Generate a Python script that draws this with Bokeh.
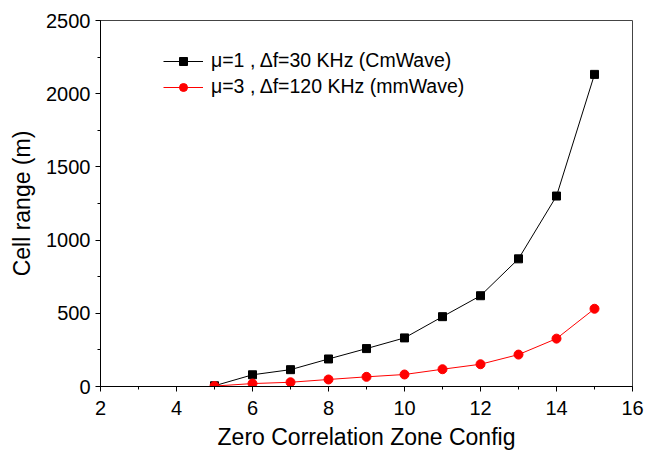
from bokeh.plotting import figure
from bokeh.models import Range1d, SingleIntervalTicker, Legend, LegendItem
from bokeh.embed import file_html
from bokeh.resources import INLINE

# Data
zcz_config = [5, 6, 7, 8, 9, 10, 11, 12, 13, 14, 15]
cell_range_mu1 = [5, 80, 115, 188, 259, 332, 477, 620, 872, 1301, 2132]
cell_range_mu3 = [3, 20, 29, 48, 66, 82, 118, 152, 218, 327, 531]
label_mu1 = "\u03bc=1 , \u0394f=30 KHz (CmWave)"
label_mu3 = "\u03bc=3 , \u0394f=120 KHz (mmWave)"

FONT = "Liberation Sans"

p = figure(width=655, height=452, output_backend="svg", toolbar_location=None,
           x_range=Range1d(2, 16), y_range=Range1d(0, 2500),
           min_border_left=100, min_border_right=23, min_border_top=20, min_border_bottom=65)
p.grid.visible = False
p.outline_line_color = "#444444"
p.outline_line_width = 1
p.background_fill_color = "white"
p.border_fill_color = "white"

p.xaxis.ticker = SingleIntervalTicker(interval=2, num_minor_ticks=2)
p.yaxis.ticker = SingleIntervalTicker(interval=500, num_minor_ticks=2)

for ax in (p.xaxis, p.yaxis):
    ax.axis_line_color = "black"
    ax.major_tick_line_color = "black"
    ax.minor_tick_line_color = "black"
    ax.major_tick_in = 0
    ax.major_tick_out = 5
    ax.minor_tick_in = 0
    ax.minor_tick_out = 3
    ax.major_label_text_font = FONT
    ax.major_label_text_font_size = "20px"
    ax.major_label_text_color = "black"
    ax.axis_label_text_font = FONT
    ax.axis_label_text_font_size = "23px"
    ax.axis_label_text_font_style = "normal"
    ax.axis_label_text_color = "black"

p.xaxis.axis_label = "Zero Correlation Zone Config"
p.yaxis.axis_label = "Cell range (m)"
p.xaxis.major_label_standoff = 9
p.xaxis.axis_label_standoff = 6
p.yaxis.major_label_standoff = 5
p.yaxis.axis_label_standoff = 8

l1 = p.line(zcz_config, cell_range_mu1, line_color="black", line_width=1)
m1 = p.scatter(zcz_config, cell_range_mu1, marker="square", size=8,
               fill_color="black", line_color="black")
l2 = p.line(zcz_config, cell_range_mu3, line_color="red", line_width=1)
m2 = p.scatter(zcz_config, cell_range_mu3, marker="circle", size=9,
               fill_color="red", line_color="red")

legend = Legend(items=[LegendItem(label=label_mu1, renderers=[l1, m1]),
                       LegendItem(label=label_mu3, renderers=[l2, m2])],
                location=(63, 288), glyph_width=40, glyph_height=20,
                label_height=20, spacing=3, padding=0, margin=0,
                label_standoff=8, border_line_color=None,
                background_fill_alpha=0,
                label_text_font=FONT, label_text_font_size="19.5px",
                label_text_color="black")
p.add_layout(legend)

open("out.html", "w").write(file_html(p, INLINE))
